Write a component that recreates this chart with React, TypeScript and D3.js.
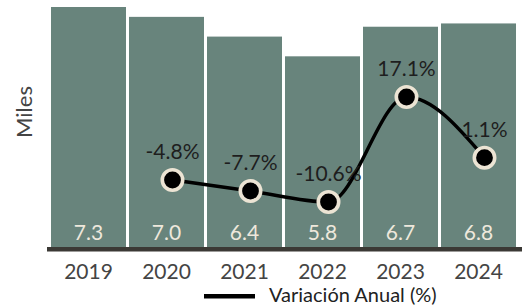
import React from "react";
import * as d3 from "d3";

const years = ["2019", "2020", "2021", "2022", "2023", "2024"];
const values = [7.3, 7.0, 6.4, 5.8, 6.7, 6.8];
const varYears = ["2020", "2021", "2022", "2023", "2024"];
const variation = [-4.8, -7.7, -10.6, 17.1, 1.1];

const W = 524;
const H = 308;
const FONT = "Lato, 'Open Sans', sans-serif";

export default function App() {
  const x = d3
    .scaleBand<string>()
    .domain(years)
    .range([49.5, 517.5])
    .paddingInner(3 / 78)
    .paddingOuter(0.0192);
  const y = d3.scaleLinear().domain([0, 7.3]).range([247, 7]);
  const y2 = d3.scaleLinear().domain([-10.6, 17.1]).range([202, 97]);
  const lineShift = 6;

  const pts: [number, number][] = varYears.map((yr, i) => [
    (x(yr) as number) + x.bandwidth() / 2 + lineShift,
    y2(variation[i]),
  ]);
  const line = d3.line().curve(d3.curveMonotoneX)(pts) as string;

  return (
    <svg
      width={W}
      height={H}
      style={{ position: "absolute", left: 0, top: 0, background: "#fff" }}
    >
      {years.map((yr, i) => (
        <rect
          key={yr}
          x={x(yr)}
          y={y(values[i])}
          width={x.bandwidth()}
          height={y(0) - y(values[i])}
          fill="#68847c"
        />
      ))}
      {years.map((yr, i) => (
        <text
          key={"v" + yr}
          x={(x(yr) as number) + x.bandwidth() / 2}
          y={240}
          textAnchor="middle"
          fontFamily={FONT}
          fontSize={21}
          fill="#eee8dc"
        >
          {values[i].toFixed(1)}
        </text>
      ))}
      <rect x={47} y={247} width={475} height={4.5} fill="#3b3935" />
      {years.map((yr) => (
        <text
          key={"t" + yr}
          x={(x(yr) as number) + x.bandwidth() / 2}
          y={279}
          textAnchor="middle"
          fontFamily={FONT}
          fontSize={21}
          fill="#444"
        >
          {yr}
        </text>
      ))}
      <text
        transform="translate(32,112) rotate(-90)"
        textAnchor="middle"
        fontFamily={FONT}
        fontSize={22}
        fill="#444"
      >
        Miles
      </text>
      <path d={line} fill="none" stroke="#000" strokeWidth={3.5} />
      {pts.map((p, i) => (
        <circle
          key={"c" + i}
          cx={p[0]}
          cy={p[1]}
          r={10.2}
          fill="#000"
          stroke="#ece4d4"
          strokeWidth={3.6}
        />
      ))}
      {pts.map((p, i) => (
        <text
          key={"l" + i}
          x={p[0]}
          y={p[1] - 21}
          textAnchor="middle"
          fontFamily={FONT}
          fontSize={21}
          fill="#1e1e1e"
        >
          {variation[i].toFixed(1) + "%"}
        </text>
      ))}
      <rect x={204} y={294} width={51} height={4.5} fill="#000" />
      <text x={269} y={302} fontFamily={FONT} fontSize={20} fill="#222">
        Variación Anual (%)
      </text>
    </svg>
  );
}
